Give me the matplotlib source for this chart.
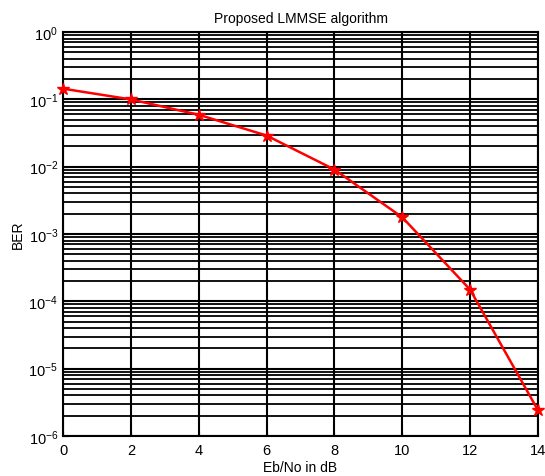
import matplotlib
matplotlib.use("Agg")
import matplotlib.pyplot as plt
from matplotlib.ticker import FixedLocator, NullFormatter

plt.rcParams['font.family'] = ['Liberation Sans', 'DejaVu Sans']
plt.rcParams['mathtext.fontset'] = 'custom'
plt.rcParams['mathtext.rm'] = 'Liberation Sans'
plt.rcParams['mathtext.it'] = 'Liberation Sans'

ebno = [0, 2, 4, 6, 8, 10, 12, 14]
ber = [0.144, 0.0997, 0.059, 0.029, 0.00906, 0.00177, 1.49e-4, 2.41e-6]
xticks = [0, 2, 4, 6, 8, 10, 12, 14]
yexps = [-6, -5, -4, -3, -2, -1, 0]

fig = plt.figure(figsize=(5.45, 4.77), dpi=100)
ax = fig.add_axes([63/545, 40/477, 475/545, 404/477])
ax.semilogy(ebno, ber, color='red', lw=1.8, marker='*', ms=9, mec='red', mfc='red',
            clip_on=False, zorder=5)
ax.set_xlim(0, 14)
ax.set_ylim(1e-6, 1)
ax.set_xticks(xticks)
majors = [10.0 ** e for e in yexps]
minors = [m * 10.0 ** e for e in yexps[:-1] for m in range(2, 10)]
ax.yaxis.set_major_locator(FixedLocator(majors))
ax.set_yticklabels([r'$10^{%d}$' % e for e in yexps])
ax.yaxis.set_minor_locator(FixedLocator(minors))
ax.yaxis.set_minor_formatter(NullFormatter())
ax.grid(True, which='major', color='black', lw=1.5)
ax.grid(True, which='minor', axis='y', color='black', lw=1.3)
ax.tick_params(which='both', direction='in', labelsize=10.5)
ax.tick_params(axis='x', pad=5)
ax.tick_params(which='minor', length=0)
for s in ax.spines.values():
    s.set_linewidth(1.5)
ax.set_title('Proposed LMMSE algorithm', fontsize=10, pad=7)
ax.set_xlabel('Eb/No in dB', fontsize=10)
ax.xaxis.set_label_coords(0.5, -(468 - 437) / 404, transform=ax.transAxes)
ax.xaxis.label.set_va('center')
ax.set_ylabel('BER', fontsize=10)
ax.yaxis.set_label_coords(-(63 - 18) / 475, 0.5, transform=ax.transAxes)
ax.yaxis.label.set_va('center')
fig.savefig('out.png', dpi=100)
